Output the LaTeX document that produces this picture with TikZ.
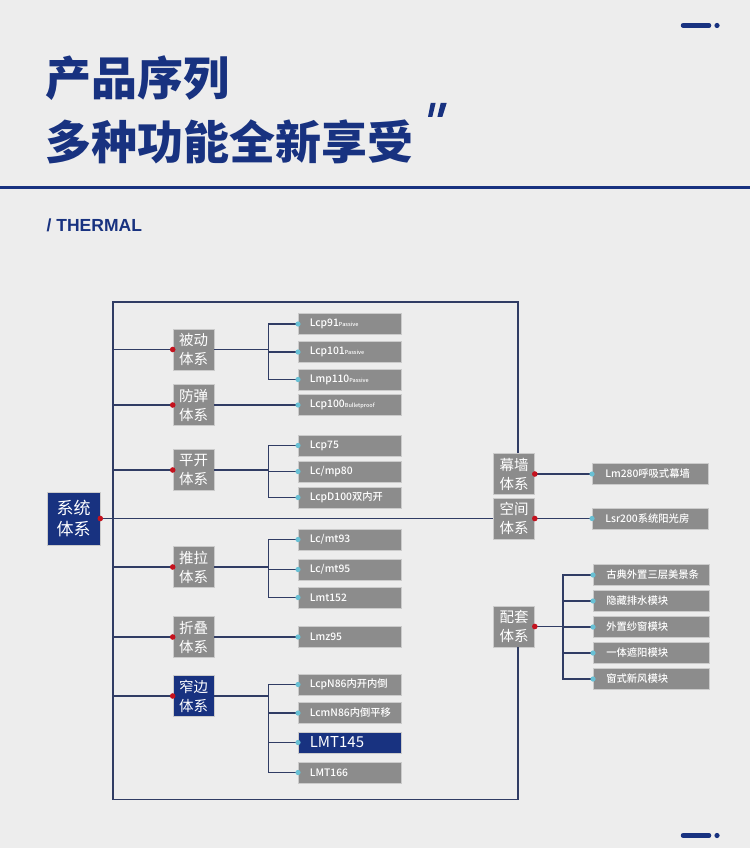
\documentclass[tikz,border=0pt]{standalone}
\usepackage{fontspec}
\usepackage{tikz}
\usetikzlibrary{calc}
\newfontfamily\cjk{Noto Sans CJK SC}
\newfontfamily\cjkmed{Noto Sans CJK SC Medium}
\newfontfamily\latinsans{Liberation Sans}
\definecolor{pageGray}{RGB}{237, 237, 237}
\definecolor{titleNavy}{RGB}{24, 50, 128}
\definecolor{lineNavy}{RGB}{48, 60, 100}
\definecolor{boxGray}{RGB}{140, 140, 140}
\definecolor{dotRed}{RGB}{196, 18, 30}
\definecolor{dotCyan}{RGB}{104, 192, 212}
\newcommand{\tagtext}[1]{{\fontsize{5.5}{6}\selectfont #1}}

\begin{document}
\begin{tikzpicture}[x=1pt, y=-1pt,
    every node/.style={font=\cjk},
    cat/.style={rectangle, draw=white!55!boxGray, fill=#1, minimum width=41pt, minimum height=41pt, inner sep=0pt, align=center, text=white, font=\cjk\fontsize{14.5}{19}\selectfont, line width=0.6pt},
    cat/.default=boxGray,
    leaf/.style={rectangle, draw=white!55!boxGray, fill=#1, anchor=west, minimum height=21pt, text width=80pt, inner xsep=11.5pt, inner ysep=0pt, align=left, text=white, font=\cjkmed\fontsize{10.3}{12}\selectfont, line width=0.6pt},
    leaf/.default=boxGray,
    rleaf/.style={leaf, text width=90pt, inner xsep=13pt},
    flow/.style={draw=lineNavy, line width=1.5pt},
    reddot/.style={fill=dotRed},
    cyandot/.style={fill=dotCyan},
    title/.style={anchor=base west, inner sep=0pt, text=titleNavy, font=\cjk\bfseries\fontsize{46}{50}\selectfont},
]
\useasboundingbox (0,0) rectangle (750,848);
\fill[pageGray] (0,0) rectangle (750,848);
% HEADER
\draw[titleNavy, line width=4.5pt, line cap=round] (683,25.5) -- (709,25.5);
\fill[titleNavy] (717,25.5) circle (2.6pt);
\node[title] (title1) at (45,96) {产品序列};
\node[title] (title2) at (45,159) {多种功能全新享受};
\fill[titleNavy] (430.7,103) -- (435.6,103) -- (432.3,117) -- (428,117) -- cycle;
\fill[titleNavy] (440.7,103) -- (446.7,103) -- (442.3,117) -- (437.4,117) -- cycle;
\draw[titleNavy, line width=3pt] (0,187) -- (750,187);
\node[anchor=base west, inner sep=0pt, text=titleNavy, font=\latinsans\bfseries\fontsize{17.5}{20}\selectfont] (thermal) at (46.5,231) {/ THERMAL};
% SYSTEM ROOT AND GROUPS
\node[cat=titleNavy, minimum width=53pt, minimum height=53pt, font=\cjk\fontsize{17}{20.5}\selectfont] (sys) at (73.5,518.5) {系统\\体系};
\node[cat] (pass) at (193.5,349.5) {被动\\体系};
\node[cat] (bullet) at (193.5,405) {防弹\\体系};
\node[cat] (casement) at (193.5,470) {平开\\体系};
\node[cat] (slide) at (193.5,567) {推拉\\体系};
\node[cat] (fold) at (193.5,637) {折叠\\体系};
\node[cat=titleNavy] (narrow) at (193.5,696) {窄边\\体系};
\node[cat] (curtain) at (514,474) {幕墙\\体系};
\node[cat] (space) at (514,518.5) {空间\\体系};
\node[cat] (acc) at (514,626.5) {配套\\体系};
% LEAVES
\node[leaf] (lcp91) at (298,324) {Lcp91\tagtext{Passive}};
\node[leaf] (lcp101) at (298,352) {Lcp101\tagtext{Passive}};
\node[leaf] (lmp110) at (298,379.5) {Lmp110\tagtext{Passive}};
\node[leaf] (lcp100) at (298,405) {Lcp100\tagtext{Bulletproof}};
\node[leaf] (lcp75) at (298,445.5) {Lcp75};
\node[leaf] (lcmp80) at (298,471.5) {Lc/mp80};
\node[leaf] (lcpd100) at (298,497.5) {LcpD100双内开};
\node[leaf] (lcmt93) at (298,539.5) {Lc/mt93};
\node[leaf] (lcmt95) at (298,569.5) {Lc/mt95};
\node[leaf] (lmt152) at (298,597.5) {Lmt152};
\node[leaf] (lmz95) at (298,637) {Lmz95};
\node[leaf] (lcpn86) at (298,684.5) {LcpN86内开内倒};
\node[leaf] (lcmn86) at (298,713) {LcmN86内倒平移};
\node[leaf=titleNavy, font=\cjk\fontsize{15}{16}\selectfont] (lmt145) at (298,742.5) {LMT145};
\node[leaf] (lmt166) at (298,772.5) {LMT166};
\node[rleaf] (lm280) at (592,474) {Lm280呼吸式幕墙};
\node[rleaf] (lsr200) at (592,518.5) {Lsr200系统阳光房};
\node[rleaf] (acc1) at (593,575) {古典外置三层美景条};
\node[rleaf] (acc2) at (593,601) {隐藏排水模块};
\node[rleaf] (acc3) at (593,627) {外置纱窗模块};
\node[rleaf] (acc4) at (593,653) {一体遮阳模块};
\node[rleaf] (acc5) at (593,679) {窗式新风模块};
% FRAME
\coordinate (ftl) at (113,302);
\coordinate (ftr) at (518,302);
\coordinate (fbl) at (113,799.5);
\coordinate (fbr) at (518,799.5);
\draw[flow] (ftr |- curtain.north) -- (ftr) -- (ftl) -- (fbl) -- (fbr) -- (fbr |- acc.south);
\draw[flow] (sys.east) -- (space.west);
\foreach \grp in {pass,bullet,casement,slide,fold,narrow}
  \draw[flow] (ftl |- \grp.west) -- (\grp.west);
% BRANCHES
\foreach \grp/\lf in {pass/lcp91, pass/lcp101, pass/lmp110, casement/lcp75, casement/lcmp80, casement/lcpd100, slide/lcmt93, slide/lcmt95, slide/lmt152, narrow/lcpn86, narrow/lcmn86, narrow/lmt145, narrow/lmt166}
  \draw[flow] (\grp.east) -- ++(54,0) |- (\lf.west);
\foreach \lf in {acc1,acc2,acc3,acc4,acc5}
  \draw[flow] (acc.east) -- ++(28,0) |- (\lf.west);
\draw[flow] (bullet.east) -- (lcp100.west);
\draw[flow] (fold.east) -- (lmz95.west);
\draw[flow] (curtain.east) -- (lm280.west);
\draw[flow] (space.east) -- (lsr200.west);
% DOTS
\fill[reddot] (sys.east) circle (2.8pt);
\foreach \grp in {pass,bullet,casement,slide,fold,narrow}
  \fill[reddot] (\grp.west) circle (2.8pt);
\foreach \grp in {curtain,space,acc}
  \fill[reddot] (\grp.east) circle (2.8pt);
\foreach \lf in {lcp91,lcp101,lmp110,lcp100,lcp75,lcmp80,lcpd100,lcmt93,lcmt95,lmt152,lmz95,lcpn86,lcmn86,lmt145,lmt166,lm280,lsr200,acc1,acc2,acc3,acc4,acc5}
  \fill[cyandot] (\lf.west) circle (2.6pt);
% BOTTOM MARK
\draw[titleNavy, line width=4.5pt, line cap=round] (683,835.5) -- (709,835.5);
\fill[titleNavy] (717,835.5) circle (2.6pt);
\end{tikzpicture}
\end{document}
